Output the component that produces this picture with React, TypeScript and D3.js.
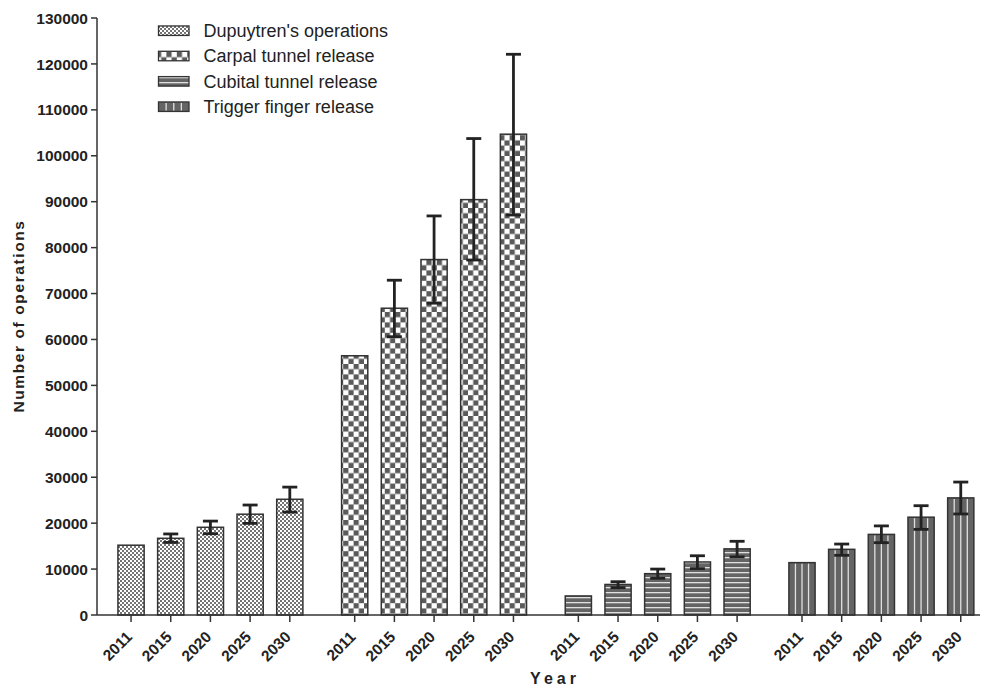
import React from "react";
import * as d3 from "d3";

const groups = ["Dupuytren's operations", "Carpal tunnel release", "Cubital tunnel release", "Trigger finger release"];
const years = ["2011", "2015", "2020", "2025", "2030"];

const dupuytren = [15200, 16700, 19100, 21950, 25200];
const dupuytrenLow = [null, 15800, 17700, 19950, 22400];
const dupuytrenHigh = [null, 17650, 20450, 23950, 27850];

const carpal = [56450, 66800, 77400, 90450, 104700];
const carpalLow = [null, 60600, 67900, 77300, 87100];
const carpalHigh = [null, 72900, 86900, 103750, 122100];

const cubital = [4150, 6650, 9000, 11550, 14400];
const cubitalLow = [null, 5950, 7990, 10100, 12650];
const cubitalHigh = [null, 7250, 10000, 12900, 16050];

const trigger = [11400, 14300, 17550, 21300, 25500];
const triggerLow = [null, 13000, 15750, 18650, 22000];
const triggerHigh = [null, 15450, 19400, 23800, 28950];

const yTicks = [0, 10000, 20000, 30000, 40000, 50000, 60000, 70000, 80000, 90000, 100000, 110000, 120000, 130000];

const seriesValues = [dupuytren, carpal, cubital, trigger];
const seriesLow = [dupuytrenLow, carpalLow, cubitalLow, triggerLow];
const seriesHigh = [dupuytrenHigh, carpalHigh, cubitalHigh, triggerHigh];
const patternIds = ["pDup", "pCarpal", "pCubital", "pTrigger"];

const W = 982;
const H = 686;
const FONT = "'Liberation Sans', Arial, sans-serif";

export default function App() {
  const y = d3.scaleLinear().domain([0, 130000]).range([615, 18]);
  const xOuter = d3.scaleBand<string>().domain(groups).range([111.2, 980.6]).paddingInner(0.1127).paddingOuter(0);
  const xInner = d3.scaleBand<string>().domain(years).range([0, xOuter.bandwidth()]).paddingInner(0.34).paddingOuter(0.17);
  const bw = xInner.bandwidth();
  const axisX = 97;
  const baseY = y(0);

  const bars: any[] = [];
  groups.forEach((g, gi) => {
    years.forEach((yr, yi) => {
      const x0 = (xOuter(g) as number) + (xInner(yr) as number);
      bars.push({ g, gi, yr, yi, x0, cx: x0 + bw / 2, v: seriesValues[gi][yi], lo: seriesLow[gi][yi], hi: seriesHigh[gi][yi] });
    });
  });

  const legendY = d3.scaleLinear().domain([0, 3]).range([30.7, 106.7]);

  return (
    <svg width={W} height={H} style={{ position: "absolute", left: 0, top: 0, background: "#fff" }} fontFamily={FONT}>
      <defs>
        <pattern id="pDup" width={4} height={4} patternUnits="userSpaceOnUse">
          <rect width={4} height={4} fill="#fff" />
          <rect x={0} y={0} width={2} height={2} fill="#747474" />
          <rect x={2} y={2} width={2} height={2} fill="#747474" />
        </pattern>
        <pattern id="pCarpal" width={10.4} height={10.4} patternUnits="userSpaceOnUse">
          <rect width={10.4} height={10.4} fill="#fff" />
          <rect x={0} y={0} width={5.2} height={5.2} fill="#5a5a5a" />
          <rect x={5.2} y={5.2} width={5.2} height={5.2} fill="#5a5a5a" />
        </pattern>
        <pattern id="pCubital" width={5} height={5} patternUnits="userSpaceOnUse">
          <rect width={5} height={5} fill="#646464" />
          <rect x={0} y={2} width={5} height={1.3} fill="#e0e0e0" />
        </pattern>
        <pattern id="pTrigger" width={10} height={10} patternUnits="userSpaceOnUse">
          <rect width={10} height={10} fill="#646464" />
        </pattern>
      </defs>

      {/* bars */}
      {bars.map((b, i) => (
        <g key={i}>
          <rect x={b.x0} y={y(b.v)} width={bw} height={baseY - y(b.v)} fill={`url(#${patternIds[b.gi]})`} stroke="#333" strokeWidth={1.5} />
          {b.gi === 3 &&
            [0.25, 0.5, 0.75].map((f) => (
              <line key={f} x1={b.x0 + bw * f} x2={b.x0 + bw * f} y1={y(b.v) + 1} y2={baseY - 1} stroke="#e0e0e0" strokeWidth={1.3} />
            ))}
        </g>
      ))}

      {/* error bars */}
      {bars
        .filter((b) => b.lo != null)
        .map((b, i) => (
          <g key={"e" + i} stroke="#222" strokeWidth={2.8}>
            <line x1={b.cx} x2={b.cx} y1={y(b.hi)} y2={y(b.lo)} />
            <line x1={b.cx - 7.5} x2={b.cx + 7.5} y1={y(b.hi)} y2={y(b.hi)} />
            <line x1={b.cx - 7.5} x2={b.cx + 7.5} y1={y(b.lo)} y2={y(b.lo)} />
          </g>
        ))}

      {/* y axis */}
      <line x1={axisX} x2={axisX} y1={y(130000)} y2={baseY} stroke="#333" strokeWidth={1.5} />
      {yTicks.map((t) => (
        <g key={t}>
          <line x1={axisX - 6} x2={axisX} y1={y(t)} y2={y(t)} stroke="#333" strokeWidth={1.5} />
          <text x={axisX - 9} y={y(t)} dy="0.36em" textAnchor="end" fontSize={15.5} fontWeight="bold" fill="#222">
            {t}
          </text>
        </g>
      ))}

      {/* x axis */}
      <line x1={axisX} x2={980} y1={baseY} y2={baseY} stroke="#333" strokeWidth={1.5} />
      {bars.map((b, i) => (
        <g key={"t" + i}>
          <line x1={b.cx} x2={b.cx} y1={baseY} y2={baseY + 7} stroke="#333" strokeWidth={1.5} />
          <text
            transform={`translate(${b.cx + 2},${baseY + 23}) rotate(-45)`}
            textAnchor="end"
            fontSize={15.5}
            fontWeight="bold"
            fill="#222"
          >
            {b.yr}
          </text>
        </g>
      ))}

      {/* axis titles */}
      <text transform={`translate(24,316) rotate(-90)`} textAnchor="middle" fontSize={15.5} fontWeight="bold" letterSpacing={1.6} fill="#222">
        Number of operations
      </text>
      <text x={555} y={684} textAnchor="middle" fontSize={16} fontWeight="bold" letterSpacing={4} fill="#222">
        Year
      </text>

      {/* legend */}
      {groups.map((g, gi) => {
        const ly = legendY(gi);
        const sx = 158.5;
        const sw = 30.5;
        const sh = 9.5;
        return (
          <g key={g}>
            <rect x={sx} y={ly - sh / 2} width={sw} height={sh} fill={`url(#${patternIds[gi]})`} stroke="#333" strokeWidth={1.3} />
            {gi === 3 &&
              [0.25, 0.5, 0.75].map((f) => (
                <line key={f} x1={sx + sw * f} x2={sx + sw * f} y1={ly - sh / 2 + 1} y2={ly + sh / 2 - 1} stroke="#e0e0e0" strokeWidth={1.3} />
              ))}
            <text x={203.5} y={ly} dy="0.35em" fontSize={18} fill="#222">
              {g}
            </text>
          </g>
        );
      })}
    </svg>
  );
}
